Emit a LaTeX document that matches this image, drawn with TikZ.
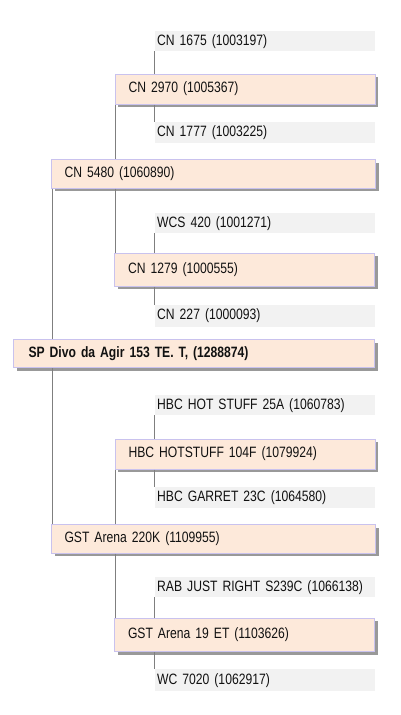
\documentclass[tikz,border=0pt]{standalone}
\usepackage{fontspec}
\setmainfont{Liberation Sans}[FakeStretch=0.81]
\usetikzlibrary{shadows}
\definecolor{peach}{HTML}{FDE9DA}
\definecolor{lav}{HTML}{C9C2EE}
\definecolor{greyfill}{HTML}{F2F2F2}
\definecolor{conncol}{HTML}{7F7F7F}
\definecolor{txtcol}{HTML}{111111}
\newcommand\tightsp{\spaceskip=0.17em\relax}
\newcommand\boldsp{\spaceskip=0.2em\relax}
\tikzset{
  base/.style={anchor=north west, align=left, inner ysep=0pt, text=txtcol,
    font=\fontsize{15}{16}\selectfont\tightsp},
  pbox/.style={base, fill=peach, draw=lav, line width=1pt,
    drop shadow={shadow xshift=3pt, shadow yshift=-3pt, fill=black!40, opacity=1}},
  rootbox/.style={pbox, inner xsep=15pt, font=\fontsize{15}{16}\selectfont\bfseries\boldsp},
  lonebox/.style={pbox, inner xsep=13pt, text width=298pt},
  ltwobox/.style={pbox, inner xsep=13.5pt, text width=233pt},
  gbox/.style={base, fill=greyfill, inner xsep=2pt, text width=216pt},
  conn/.style={draw=conncol, line width=1pt}
}
\begin{document}
\begin{tikzpicture}[x=1pt,y=-1pt]
\useasboundingbox[fill=white] (0,0) rectangle (400,715);

% grey leaves
\node[gbox, minimum height=20pt] (g1675) at (155,31) {CN 1675 (1003197)};
\node[gbox, minimum height=21pt] (g1777) at (155,122) {CN 1777 (1003225)};
\node[gbox, minimum height=20pt] (g420) at (155,213) {WCS 420 (1001271)};
\node[gbox, minimum height=22pt] (g227) at (155,304.5) {CN 227 (1000093)};
\node[gbox, minimum height=20pt] (g25a) at (155,395) {HBC HOT STUFF 25A (1060783)};
\node[gbox, minimum height=21pt] (g23c) at (155,487) {HBC GARRET 23C (1064580)};
\node[gbox, minimum height=20pt] (grab) at (155,577) {RAB JUST RIGHT S239C (1066138)};
\node[gbox, minimum height=22pt] (g7020) at (155,669) {WC 7020 (1062917)};

% level 2
\node[ltwobox, minimum height=30pt] (n2970) at (114.5,73.5) {CN 2970 (1005367)};
\node[ltwobox, minimum height=33pt] (n1279) at (114,252.5) {CN 1279 (1000555)};
\node[ltwobox, minimum height=30pt] (n104f) at (114.5,438.5) {HBC HOTSTUFF 104F (1079924)};
\node[ltwobox, minimum height=33.5pt] (n19et) at (114,617.5) {GST Arena 19 ET (1103626)};

% level 1
\node[lonebox, minimum height=28.5pt] (n5480) at (51,159) {CN 5480 (1060890)};
\node[lonebox, minimum height=28.5pt] (n220k) at (51,524) {GST Arena 220K (1109955)};

% root
\node[rootbox, text width=331pt, minimum height=28pt] (root) at (13,339) {SP Divo da Agir 153 TE. T, (1288874)};

% connectors: leaves
\draw[conn] ([xshift=-1pt]g1675.south west) -- ([xshift=-1pt]g1675.south west |- n2970.north);
\draw[conn] ([xshift=-1pt]g1777.north west |- n2970.south) -- ([xshift=-1pt]g1777.north west);
\draw[conn] ([xshift=-1pt]g420.south west) -- ([xshift=-1pt]g420.south west |- n1279.north);
\draw[conn] ([xshift=-1pt]g227.north west |- n1279.south) -- ([xshift=-1pt]g227.north west);
\draw[conn] ([xshift=-1pt]g25a.south west) -- ([xshift=-1pt]g25a.south west |- n104f.north);
\draw[conn] ([xshift=-1pt]g23c.north west |- n104f.south) -- ([xshift=-1pt]g23c.north west);
\draw[conn] ([xshift=-1pt]grab.south west) -- ([xshift=-1pt]grab.south west |- n19et.north);
\draw[conn] ([xshift=-1pt]g7020.north west |- n19et.south) -- ([xshift=-1pt]g7020.north west);

% connectors: level 2 to level 1
\draw[conn] ([xshift=1.2pt]n2970.south west) -- ([xshift=1.2pt]n2970.south west |- n5480.north);
\draw[conn] ([xshift=1.5pt]n1279.north west |- n5480.south) -- ([xshift=1.5pt]n1279.north west);
\draw[conn] ([xshift=1.2pt]n104f.south west) -- ([xshift=1.2pt]n104f.south west |- n220k.north);
\draw[conn] ([xshift=1.5pt]n19et.north west |- n220k.south) -- ([xshift=1.5pt]n19et.north west);

% connectors: level 1 to root
\draw[conn] ([xshift=1.2pt]n5480.south west) -- ([xshift=1.2pt]n5480.south west |- root.north);
\draw[conn] ([xshift=1.2pt]n220k.north west |- root.south) -- ([xshift=1.2pt]n220k.north west);
\end{tikzpicture}
\end{document}
